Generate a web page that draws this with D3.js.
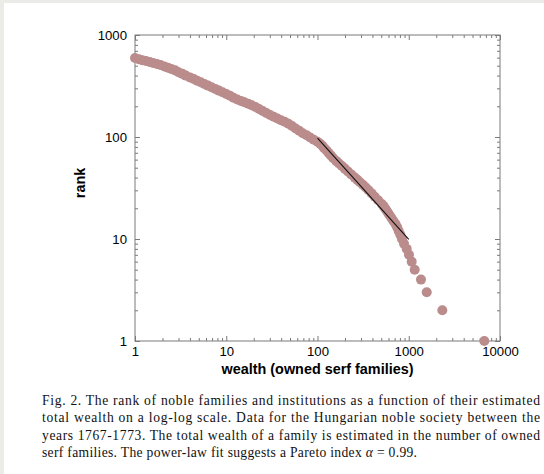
<!DOCTYPE html>
<html>
<head>
<meta charset="utf-8">
<script src="https://cdn.jsdelivr.net/npm/d3@7"></script>
<style>
  html, body { margin: 0; padding: 0; background: #ebebe7; }
  svg { display: block; }
</style>
</head>
<body>
<svg id="chart" width="544" height="474"></svg>
<script>
// ---- data ----
const rank = [
  1, 2, 3, 4, 5, 6, 7, 8, 9, 10,
  11, 12, 13, 14, 15, 16, 17, 18, 19, 20, 21, 22,
  24, 26, 28, 30, 32, 34, 36, 38, 40,
  43, 46, 49, 52, 55, 58,
  62, 66, 70, 74, 78, 82, 86,
  90, 94, 99, 104, 109, 115, 121, 128, 135, 141,
  146, 152, 158, 164, 172, 180, 188, 197, 205, 212,
  219, 226, 233, 243, 254, 264, 275, 285, 296, 308,
  319, 331, 344, 356, 370, 384, 400, 416, 432, 450,
  464, 478, 492, 507, 520, 531, 543, 555, 567, 580,
  596
];
const wealth = [
  6730, 2333, 1574, 1362, 1162, 1077, 1006, 950, 887, 844,
  808, 776, 748, 716, 679, 649, 620, 594, 571, 549, 530, 507,
  462, 424, 392, 363, 338, 314, 292, 273, 256,
  234, 215, 199, 185, 172, 161,
  149, 140, 132, 125, 118, 113, 107,
  100, 91, 83, 76, 69, 63, 57.5, 52.5, 48, 43.6,
  39.8, 36.3, 33.1, 30.2, 27.5, 25.1, 22.9, 20.9, 19.0, 17.4,
  15.8, 14.5, 13.2, 12.0, 11.0, 10, 9.1, 8.3, 7.6, 6.9,
  6.3, 5.75, 5.25, 4.8, 4.4, 4.0, 3.6, 3.3, 3.0, 2.75,
  2.5, 2.3, 2.1, 1.9, 1.74, 1.58, 1.45, 1.32, 1.2, 1.1,
  1
];
// power-law fit line endpoints
const fitWealth = [100, 1000];
const fitRank = [97.5, 9.9];

const xMajor = [1, 10, 100, 1000, 10000];
const yMajor = [1, 10, 100, 1000];
const xLabels = ["1", "10", "100", "1000", "10000"];
const yLabels = ["1", "10", "100", "1000"];

const xTitle = "wealth (owned serf families)";
const yTitle = "rank";
const caption = [
  "Fig. 2. The rank of noble families and institutions as a function of their estimated",
  "total wealth on a log-log scale. Data for the Hungarian noble society between the",
  "years 1767-1773. The total wealth of a family is estimated in the number of owned",
  "serf families. The power-law fit suggests a Pareto index "
];
const captionTail = ["\u03B1", " = 0.99."];

// ---- drawing ----
const svg = d3.select("#chart");
svg.append("rect").attr("x", 4).attr("y", 3).attr("width", 540).attr("height", 471).attr("fill", "#ffffff");

const L = 135, R = 500, T = 35, B = 341;
const x = d3.scaleLog().domain([1, 10000]).range([L, R]);
const y = d3.scaleLog().domain([1, 1000]).range([B, T]);

function minorTicks(domain) {
  const out = [];
  for (let d = domain[0]; d < domain[1]; d *= 10)
    for (let k = 2; k <= 9; k++) out.push(d * k);
  return out;
}
const xMinor = minorTicks([1, 10000]);
const yMinor = minorTicks([1, 1000]);
const axisColor = "#7a7a7a";
const sans = "Liberation Sans, Arial, Helvetica, sans-serif";

function styleAxis(g) {
  g.select(".domain").remove();
  g.selectAll(".tick line").attr("stroke", axisColor).attr("stroke-width", 1);
  g.selectAll(".tick text").attr("fill", "#000").style("font-family", sans).style("font-size", "13.2px");
}

// bottom
svg.append("g").attr("transform", `translate(0,${B})`)
  .call(d3.axisBottom(x).tickValues(xMajor).tickSize(-5).tickPadding(6).tickFormat((d, i) => xLabels[i]))
  .call(styleAxis);
svg.append("g").attr("transform", `translate(0,${B})`)
  .call(d3.axisBottom(x).tickValues(xMinor).tickSize(-3).tickFormat(""))
  .call(styleAxis);
// top
svg.append("g").attr("transform", `translate(0,${T})`)
  .call(d3.axisTop(x).tickValues(xMajor).tickSize(-5).tickFormat(""))
  .call(styleAxis);
svg.append("g").attr("transform", `translate(0,${T})`)
  .call(d3.axisTop(x).tickValues(xMinor).tickSize(-3).tickFormat(""))
  .call(styleAxis);
// left
svg.append("g").attr("transform", `translate(${L},0)`)
  .call(d3.axisLeft(y).tickValues(yMajor).tickSize(-5).tickPadding(8).tickFormat((d, i) => yLabels[i]))
  .call(styleAxis);
svg.append("g").attr("transform", `translate(${L},0)`)
  .call(d3.axisLeft(y).tickValues(yMinor).tickSize(-3).tickFormat(""))
  .call(styleAxis);
// right
svg.append("g").attr("transform", `translate(${R},0)`)
  .call(d3.axisRight(y).tickValues(yMajor).tickSize(-5).tickFormat(""))
  .call(styleAxis);
svg.append("g").attr("transform", `translate(${R},0)`)
  .call(d3.axisRight(y).tickValues(yMinor).tickSize(-3).tickFormat(""))
  .call(styleAxis);

// frame
svg.append("rect").attr("x", L).attr("y", T).attr("width", R - L).attr("height", B - T)
  .attr("fill", "none").attr("stroke", axisColor).attr("stroke-width", 1);

// points
const pts = rank.map((r, i) => ({ r, w: wealth[i] }));
svg.append("g").selectAll("circle").data(pts).join("circle")
  .attr("cx", d => x(d.w)).attr("cy", d => y(d.r)).attr("r", 5)
  .attr("fill", "#bb8c8c");

// fit line
svg.append("line")
  .attr("x1", x(fitWealth[0])).attr("y1", y(fitRank[0]))
  .attr("x2", x(fitWealth[1])).attr("y2", y(fitRank[1]))
  .attr("stroke", "#111").attr("stroke-width", 1.1);

// axis titles
svg.append("text").attr("x", (L + R) / 2).attr("y", 374).attr("text-anchor", "middle")
  .style("font-family", sans).style("font-size", "14.4px").style("font-weight", "bold")
  .text(xTitle);
svg.append("text").attr("transform", `translate(84.5,183) rotate(-90)`).attr("text-anchor", "middle")
  .style("font-family", sans).style("font-size", "14.4px").style("font-weight", "bold")
  .text(yTitle);

// caption
const capG = svg.append("g").style("font-family", "Liberation Serif, Times New Roman, serif").style("font-size", "13.6px").attr("fill", "#111");
const lineY = [404.5, 422, 439.7, 457.3];
caption.forEach((t, i) => {
  const tx = capG.append("text").attr("x", 42).attr("y", lineY[i]);
  if (i < 3) {
    tx.attr("textLength", 498).attr("lengthAdjust", "spacing").text(t);
  } else {
    tx.attr("textLength", 375).attr("lengthAdjust", "spacing");
    tx.append("tspan").text(t);
    tx.append("tspan").style("font-style", "italic").text(captionTail[0]);
    tx.append("tspan").text(captionTail[1]);
  }
});
</script>
</body>
</html>
